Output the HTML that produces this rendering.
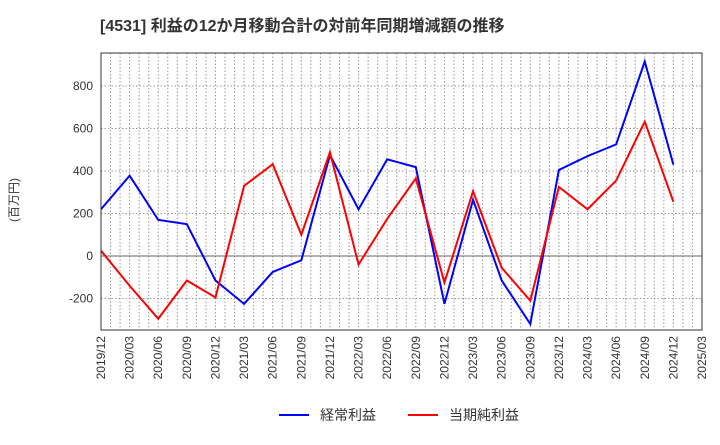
<!DOCTYPE html>
<html><head><meta charset="utf-8"><style>
body{margin:0;background:#fff;font-family:"Liberation Sans","Noto Sans CJK JP",sans-serif;}
</style></head><body>
<svg id="c" width="720" height="440" xmlns="http://www.w3.org/2000/svg" font-family="Liberation Sans, Noto Sans CJK JP, sans-serif">
<text x="100" y="31" font-size="16" font-weight="bold" fill="#333">[4531]  利益の12か月移動合計の対前年同期増減額の推移</text>
<text transform="translate(18,200) rotate(-90)" font-size="12" fill="#333" text-anchor="middle">(百万円)</text>
<g id="grid"></g><g id="series"></g><g id="axes"></g>
<g>
<line x1="279" y1="415" x2="309" y2="415" stroke="#0000ff" stroke-width="2"/>
<text x="320" y="420" font-size="14" fill="#333">経常利益</text>
<line x1="408" y1="415" x2="438" y2="415" stroke="#ff0000" stroke-width="2"/>
<text x="449" y="420" font-size="14" fill="#333">当期純利益</text>
</g>
</svg>
<script>
const categories=["2019/12","2020/03","2020/06","2020/09","2020/12","2021/03","2021/06","2021/09","2021/12","2022/03","2022/06","2022/09","2022/12","2023/03","2023/06","2023/09","2023/12","2024/03","2024/06","2024/09","2024/12","2025/03"];
const keijo=[220,378,170,150,-115,-225,-75,-20,475,220,455,418,-225,265,-115,-320,405,470,525,915,430];
const junri=[25,-140,-295,-115,-195,330,432,100,488,-40,175,365,-125,305,-55,-210,325,220,355,632,255];
const yTicks=[-200,0,200,400,600,800];
const L=101,R=702,T=53,B=330,ymin=-348,ymax=955;
const ns="http://www.w3.org/2000/svg";
const xs=i=>L+(R-L)*i/(categories.length-1);
const ys=v=>B-(v-ymin)/(ymax-ymin)*(B-T);
function mk(p,t,a){const e=document.createElementNS(ns,t);for(const k in a)e.setAttribute(k,a[k]);document.getElementById(p).appendChild(e);return e;}
const months=(categories.length-1)*3;
for(let m=1;m<months;m++){const x=L+(R-L)*m/months;const e=mk('grid','line',{x1:x,x2:x,y1:T,y2:B,stroke:'#999','stroke-dasharray':'1.5,2','stroke-width':1});

}
yTicks.forEach(v=>{const e=mk('grid','line',{x1:L,x2:R,y1:ys(v),y2:ys(v),stroke:v===0?'#666':'#999','stroke-dasharray':v===0?'none':'1.5,2','stroke-width':1});


const t=mk('axes','text',{x:L-8,y:ys(v)+4,'font-size':12,fill:'#333','text-anchor':'end'});t.textContent=v;

});
categories.forEach((c,i)=>{const t=mk('axes','text',{transform:`translate(${xs(i)+4},336) rotate(-90)`,'font-size':12,fill:'#333','text-anchor':'end'});t.textContent=c;

});
const fr=mk('axes','rect',{x:L,y:T,width:R-L,height:B-T,fill:'none',stroke:'#333','stroke-width':1});


[[keijo,'#0000ff','keijo-line'],[junri,'#ff0000','junri-line']].forEach(([d,c,n])=>{const p=mk('series','polyline',{points:d.map((v,i)=>xs(i)+','+ys(v)).join(' '),fill:'none',stroke:c,'stroke-width':2});

});
</script>
</body></html>
